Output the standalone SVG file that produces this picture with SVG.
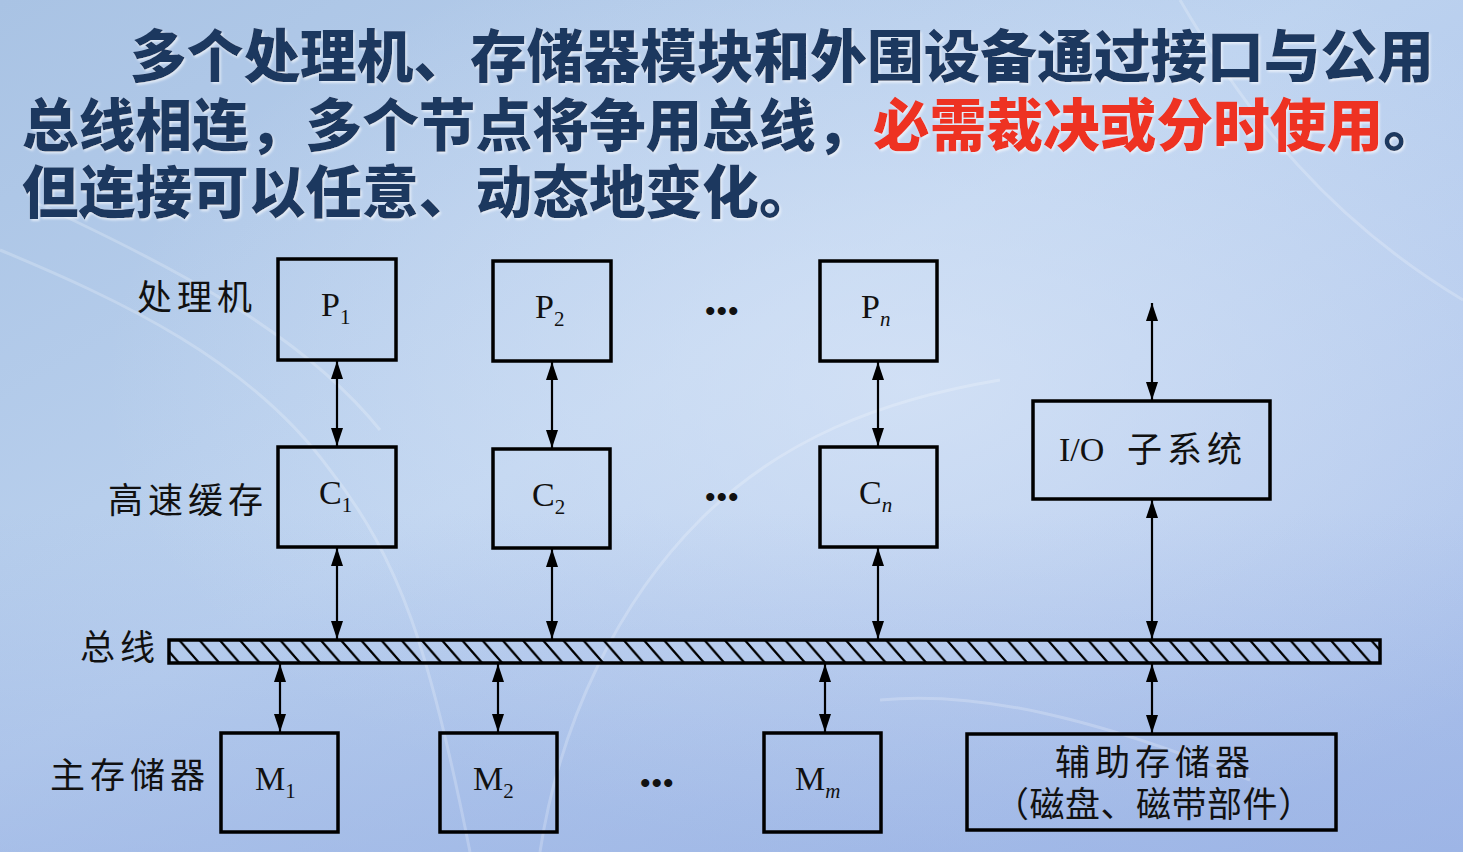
<svg xmlns="http://www.w3.org/2000/svg" width="1463" height="852" viewBox="0 0 1463 852">
  <defs>
    <linearGradient id="bg" x1="0" y1="0" x2="1" y2="1">
      <stop offset="0" stop-color="#a9c3e4"/>
      <stop offset="0.45" stop-color="#bcd2ef"/>
      <stop offset="1" stop-color="#a9bfeb"/>
    </linearGradient>
    <radialGradient id="glow" cx="0.62" cy="0.45" r="0.55">
      <stop offset="0" stop-color="#dbe7f8" stop-opacity="0.7"/>
      <stop offset="1" stop-color="#dbe7f8" stop-opacity="0"/>
    </radialGradient>
    <linearGradient id="shade" x1="0" y1="0" x2="0" y2="1">
      <stop offset="0.6" stop-color="#8fa9e0" stop-opacity="0"/>
      <stop offset="1" stop-color="#8fa9e0" stop-opacity="0.45"/>
    </linearGradient>
    <pattern id="hatch" patternUnits="userSpaceOnUse" width="20.2" height="23" x="169" y="640">
      <path d="M-10,0 L10,23 M10.2,0 L30.2,23" stroke="#000" stroke-width="2.2" fill="none"/>
    </pattern>
    <marker id="ah" viewBox="0 0 18 12" refX="18" refY="6" markerWidth="18" markerHeight="12" markerUnits="userSpaceOnUse" orient="auto-start-reverse">
      <path d="M0,0 L18,6 L0,12 z" fill="#000"/>
    </marker>
    <filter id="ts" x="-5%" y="-20%" width="110%" height="140%">
      <feDropShadow dx="1.5" dy="2" stdDeviation="1.2" flood-color="#ffffff" flood-opacity="0.6"/>
    </filter>
  </defs>
  <style>
    .title { font-family: "Noto Sans CJK SC", "Noto Sans", sans-serif; font-weight: 900; font-size: 56.7px; fill: #1b375f; }
    .red { fill: #ee3322; }
    .box { fill: none; stroke: #000; stroke-width: 3.5; }
    .lbl { font-family: "Noto Sans CJK SC", sans-serif; font-size: 35px; fill: #111; letter-spacing: 5px; }
    .sym { font-family: "Liberation Serif", serif; font-size: 34px; fill: #111; }
    .sub { font-size: 21px; }
    .it { font-style: italic; }
    .dots { font-family: "Liberation Serif", serif; font-size: 30px; font-weight: bold; fill: #111; letter-spacing: 1px; }
    .arrow { stroke: #000; stroke-width: 2.2; fill: none; marker-start: url(#ah); marker-end: url(#ah); }
  </style>

  <!-- background -->
  <rect x="0" y="0" width="1463" height="852" fill="url(#bg)"/>
  <rect x="0" y="0" width="1463" height="852" fill="url(#glow)"/>
  <rect x="0" y="0" width="1463" height="852" fill="url(#shade)"/>
  <g fill="none" stroke="#ffffff" stroke-opacity="0.22" stroke-width="3">
    <path d="M0,250 C120,300 250,360 330,470 C400,560 430,650 470,852"/>
    <path d="M30,200 C160,260 300,330 380,430"/>
    <path d="M540,852 C560,720 620,600 700,520 C780,440 880,400 1000,380"/>
    <path d="M1180,0 C1250,120 1330,220 1463,300"/>
    <path d="M880,700 C980,690 1100,720 1250,780"/>
  </g>

  <!-- heading -->
  <g id="heading" filter="url(#ts)">
    <text class="title" x="130" y="77">多个处理机、存储器模块和外围设备通过接口与公用</text>
    <text class="title" x="22" y="146">总线相连，多个节点将争用总线，</text>
    <text class="title red" x="873" y="146">必需裁决或分时使用<tspan fill="#1b375f">。</tspan></text>
    <text class="title" x="22" y="213">但连接可以任意、动态地变化。</text>
  </g>

  <!-- row labels -->
  <g id="row-labels">
    <text class="lbl" x="137" y="310">处理机</text>
    <text class="lbl" x="108" y="513">高速缓存</text>
    <text class="lbl" x="80" y="660">总线</text>
    <text class="lbl" x="50" y="788">主存储器</text>
  </g>

  <!-- connectors -->
  <g id="connectors">
    <line class="arrow" x1="337" y1="361" x2="337" y2="446"/>
    <line class="arrow" x1="337" y1="548" x2="337" y2="639"/>
    <line class="arrow" x1="552" y1="362" x2="552" y2="448"/>
    <line class="arrow" x1="552" y1="549" x2="552" y2="639"/>
    <line class="arrow" x1="878" y1="362" x2="878" y2="446"/>
    <line class="arrow" x1="878" y1="548" x2="878" y2="639"/>
    <line class="arrow" x1="1152" y1="303" x2="1152" y2="400"/>
    <line class="arrow" x1="1152" y1="500" x2="1152" y2="639"/>
    <line class="arrow" x1="280" y1="664" x2="280" y2="732"/>
    <line class="arrow" x1="498" y1="664" x2="498" y2="732"/>
    <line class="arrow" x1="825" y1="664" x2="825" y2="732"/>
    <line class="arrow" x1="1152" y1="664" x2="1152" y2="733"/>
  </g>

  <!-- shared bus -->
  <g id="bus">
    <rect x="169" y="640" width="1211" height="23" fill="url(#hatch)" stroke="#000" stroke-width="3.5"/>
  </g>

  <!-- processors -->
  <g id="p1">
    <rect class="box" x="278" y="259" width="118" height="101"/>
    <text class="sym" x="321" y="316">P<tspan class="sub" dy="8">1</tspan></text>
  </g>
  <g id="p2">
    <rect class="box" x="493" y="261" width="118" height="100"/>
    <text class="sym" x="535" y="318">P<tspan class="sub" dy="8">2</tspan></text>
  </g>
  <g id="pn">
    <rect class="box" x="820" y="261" width="117" height="100"/>
    <text class="sym" x="861" y="318">P<tspan class="sub it" dy="8">n</tspan></text>
  </g>

  <!-- caches -->
  <g id="c1">
    <rect class="box" x="278" y="447" width="118" height="100"/>
    <text class="sym" x="319" y="504">C<tspan class="sub" dy="8">1</tspan></text>
  </g>
  <g id="c2">
    <rect class="box" x="493" y="449" width="117" height="99"/>
    <text class="sym" x="532" y="506">C<tspan class="sub" dy="8">2</tspan></text>
  </g>
  <g id="cn">
    <rect class="box" x="820" y="447" width="117" height="100"/>
    <text class="sym" x="859" y="504">C<tspan class="sub it" dy="8">n</tspan></text>
  </g>

  <!-- I/O subsystem -->
  <g id="io">
    <rect class="box" x="1033" y="401" width="237" height="98"/>
    <text class="sym" x="1059" y="461">I/O</text>
    <text class="lbl" x="1127" y="462">子系统</text>
  </g>

  <!-- main memory modules -->
  <g id="m1">
    <rect class="box" x="221" y="733" width="117" height="99"/>
    <text class="sym" x="255" y="790">M<tspan class="sub" dy="8">1</tspan></text>
  </g>
  <g id="m2">
    <rect class="box" x="440" y="733" width="117" height="99"/>
    <text class="sym" x="473" y="790">M<tspan class="sub" dy="8">2</tspan></text>
  </g>
  <g id="mm">
    <rect class="box" x="764" y="733" width="117" height="99"/>
    <text class="sym" x="795" y="790">M<tspan class="sub it" dy="8">m</tspan></text>
  </g>

  <!-- secondary storage -->
  <g id="aux">
    <rect class="box" x="967" y="734" width="369" height="96"/>
    <text class="lbl" x="1055" y="775">辅助存储器</text>
    <text class="lbl" x="994" y="817" style="letter-spacing:0.5px">（磁盘、磁带部件）</text>
  </g>

  <!-- ellipses between repeated nodes -->
  <g id="ellipses">
    <text class="dots" x="705" y="321">•••</text>
    <text class="dots" x="705" y="507">•••</text>
    <text class="dots" x="640" y="793">•••</text>
  </g>
</svg>
